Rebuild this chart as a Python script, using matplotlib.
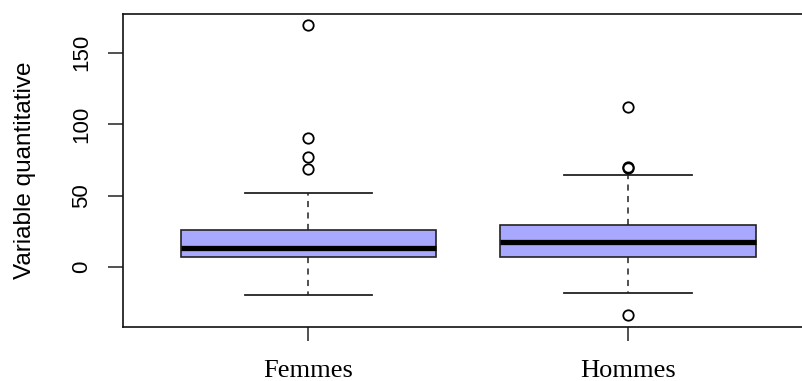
import matplotlib
matplotlib.use('Agg')
import matplotlib.pyplot as plt

# summary statistics per group (Tukey boxplot)
groups   = ['Femmes', 'Hommes']
q1       = [7.0, 7.2]
medians  = [13.5, 17.2]
q3       = [26.1, 29.6]
wlo      = [-19.9, -18.5]
whi      = [52.1, 64.2]
outliers = [[169.1, 90.4, 77.3, 68.7],
            [112.3, 70.3, 69.5, -33.9]]

BOX_C = '#a8a8ff'

stats = []
for i, g in enumerate(groups):
    stats.append(dict(label=g, q1=q1[i], med=medians[i], q3=q3[i],
                      whislo=wlo[i], whishi=whi[i], fliers=outliers[i]))

fig = plt.figure(figsize=(8.02, 3.81), dpi=100)
ax = fig.add_axes([0.1534, 0.1417, 0.861, 0.822])

ax.bxp(stats, positions=[1, 2], widths=0.8, patch_artist=True,
       boxprops=dict(facecolor=BOX_C, edgecolor='#222222', linewidth=1.2),
       medianprops=dict(color='black', linewidth=3.8, solid_capstyle='butt'),
       whiskerprops=dict(color='#222222', linewidth=1.1, linestyle=(0, (4, 3.5))),
       capprops=dict(color='#222222', linewidth=1.3),
       capwidths=0.4,
       flierprops=dict(marker='o', markerfacecolor='none', markeredgecolor='black',
                       markersize=7.5, markeredgewidth=1.3))

lo = min(min(wlo), min(min(o) for o in outliers))
hi = max(max(whi), max(max(o) for o in outliers))
pad = 0.04 * (hi - lo)
ax.set_ylim(lo - pad, hi + pad)
ax.set_xlim(0.42, 2.58)

ax.set_yticks([0, 50, 100, 150])
ax.set_yticklabels(['0', '50', '100', '150'], family='Liberation Sans',
                   fontsize=16, rotation=90, va='center')
ax.set_xticks([1, 2])
ax.set_xticklabels(groups, family='Liberation Serif', fontsize=19)
ax.tick_params(axis='y', length=10.5, width=1.1, pad=12, color='#222222')
ax.tick_params(axis='x', length=10, width=1.1, pad=14, color='#222222')

ax.set_ylabel('Variable quantitative', family='Liberation Sans', fontsize=17.5,
              labelpad=25)

for s in ax.spines.values():
    s.set_linewidth(1.2)
    s.set_color('#111111')

fig.savefig('out.png', dpi=100)
